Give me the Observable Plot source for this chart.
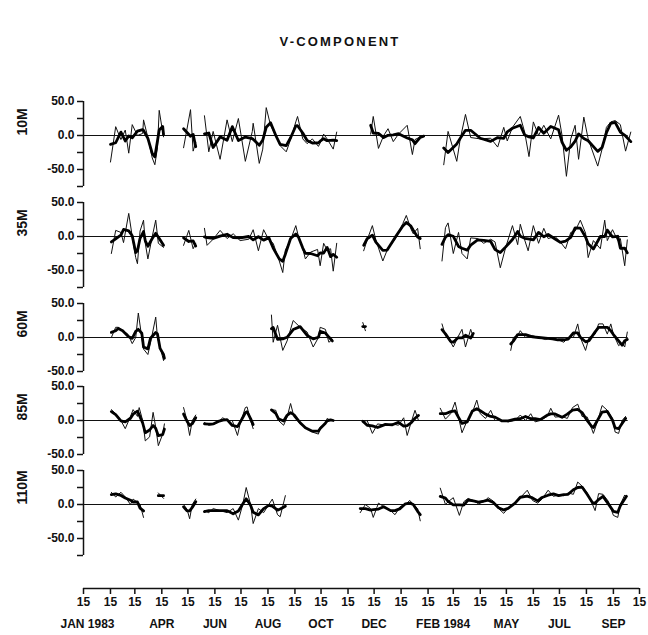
<!DOCTYPE html>
<html><head><meta charset="utf-8">
<script src="https://cdn.jsdelivr.net/npm/d3@7"></script>
<script src="https://cdn.jsdelivr.net/npm/@observablehq/plot@0.6"></script>
<style>
body{margin:0;background:#fff;}
#chart{position:relative;width:648px;height:635px;background:#fff;font-family:"Liberation Sans",Arial,Helvetica,sans-serif;}
#chart svg{position:absolute;left:0;}
#title{position:absolute;top:34px;left:16px;width:648px;text-align:center;font-weight:bold;font-size:13px;letter-spacing:2.2px;color:#111;}
</style></head><body>
<div id="chart"><div id="title">V-COMPONENT</div></div>
<script>
// Day offsets are counted from 15 Jan 1983; each inner array is one unbroken record.
const baseYear = 1983, baseMonth = 0, baseDay = 15;
const xEndDays = 639;          // 15 Oct 1984
const zeroLineEndDays = 626;

const depths = ["10M", "35M", "60M", "85M", "110M"];
const yLows = [-75, -75, -50, -50, -75];
const yHigh = 50;
const yTicks = [-75, -50, -25, 0, 25, 50];

const v10m = [
 [[31,-39],[37,13],[43,-6],[48,8],[52,-26],[56,16],[62,0],[68,3],[69,23],[74,-3],[79,-33],[82,-43],[85,-18],[87,37],[91,5],[92,-2]],
 [[115,-18],[123,38],[126,-23],[129,-10]],
 [[139,29],[144,-24],[149,6],[157,-35],[165,23],[171,-9],[178,25],[186,-38],[194,6],[195,18],[202,-41],[206,-20],[210,41],[215,15],[221,0],[226,-15],[233,-24],[238,-6],[244,20],[246,28],[252,-5],[257,-12],[263,-5],[270,-16],[272,-11],[276,2],[280,-5],[287,-20],[291,5]],
 [[330,2],[333,28],[339,-19],[345,0],[350,10],[356,-9],[362,2],[372,15],[378,-28],[381,-6],[387,-2],[391,0]],
 [[414,-43],[419,6],[429,-38],[433,-5],[439,31],[445,-3],[456,-5],[468,-4],[476,-17],[483,12],[487,-8],[493,12],[502,28],[507,5],[512,-31],[517,20],[523,0],[529,15],[537,-5],[546,30],[550,0],[555,-60],[560,-5],[565,15],[569,-35],[575,27],[580,-5],[591,-45],[596,-20],[601,12],[606,20],[611,22],[617,16],[623,-23],[629,5]]
];
const v35m = [
 [[32,-25],[37,9],[43,6],[46,-9],[52,34],[56,0],[60,-31],[62,-40],[65,8],[69,24],[71,-10],[74,-33],[79,0],[83,24],[86,-10],[92,-16]],
 [[115,-13],[121,9],[126,-18],[129,-10]],
 [[139,12],[142,-13],[149,-4],[157,9],[165,-3],[172,4],[180,-6],[190,-4],[195,10],[201,-21],[207,10],[213,-5],[218,-10],[225,-36],[229,-53],[232,-20],[238,-5],[244,16],[247,0],[252,-18],[255,-33],[261,-23],[269,-19],[272,-43],[276,-10],[280,-20],[284,-18],[287,-51],[291,-10]],
 [[322,-21],[326,-5],[332,16],[336,-5],[344,-36],[349,-20],[358,-4],[367,19],[371,31],[376,12],[379,4],[384,12],[387,-18]],
 [[412,-36],[416,13],[419,20],[425,-25],[431,6],[435,-25],[441,-33],[445,-2],[453,-3],[460,-10],[468,-4],[473,-8],[479,-46],[485,-17],[493,16],[499,-12],[502,18],[507,-5],[511,-21],[517,16],[523,-10],[529,12],[534,-3],[542,0],[548,-8],[554,-18],[560,6],[565,8],[571,24],[577,5],[580,-31],[586,-6],[594,-18],[599,24],[602,-6],[608,10],[614,-6],[617,-3],[622,-43],[625,-5]]
];
const v60m = [
 [[32,0],[37,15],[40,15],[45,10],[51,5],[56,-9],[60,0],[63,36],[67,0],[69,-17],[74,-25],[77,-8],[83,30],[85,0],[88,-14],[92,-34],[93,-27]],
 [[216,33],[218,-7],[223,18],[229,-19],[234,-5],[241,25],[249,15],[257,8],[264,-14],[270,0],[272,15],[278,12],[282,-7],[286,-3]],
 [[321,22],[324,10]],
 [[412,20],[416,3],[422,-7],[425,-14],[430,0],[435,12],[439,-14],[445,12],[448,0]],
 [[491,-19],[494,0],[499,3],[502,10],[508,0],[516,3],[523,0],[531,-3],[539,0],[545,-3],[552,-7],[557,0],[563,0],[568,20],[571,0],[577,-19],[581,0],[588,5],[592,20],[597,20],[602,5],[606,20],[609,5],[615,-12],[619,-8],[622,-14],[625,8]]
];
const v85m = [
 [[32,16],[37,10],[43,0],[48,-12],[54,6],[57,16],[62,6],[64,19],[68,0],[71,-30],[76,-24],[80,12],[83,-10],[86,-37],[91,-20],[93,-5]],
 [[115,19],[119,0],[122,-22],[125,0],[129,8]],
 [[139,-3],[144,-7],[149,-6],[155,-2],[160,4],[165,0],[171,0],[177,-22],[180,-5],[186,19],[188,20],[192,0],[195,-12]],
 [[216,16],[221,15],[224,0],[230,-7],[234,5],[238,25],[242,5],[249,-5],[255,-10],[263,-17],[270,-20],[272,-10],[278,-5],[280,3],[284,0],[287,0]],
 [[321,-2],[326,0],[332,-19],[338,-5],[347,-7],[355,-5],[362,-7],[368,4],[372,-22],[376,-5],[381,15],[385,0]],
 [[410,18],[416,2],[422,10],[427,27],[431,5],[435,-18],[441,0],[447,12],[452,30],[456,10],[462,3],[468,15],[473,0],[481,0],[488,-2],[496,0],[502,8],[508,0],[514,10],[519,-2],[525,0],[533,6],[537,18],[542,5],[550,6],[556,3],[562,19],[568,24],[573,6],[579,5],[584,-12],[586,-19],[591,0],[596,22],[602,15],[608,3],[611,-17],[615,-19],[619,0],[623,6]]
];
const v110m = [
 [[32,18],[37,11],[43,18],[48,11],[54,0],[57,8],[62,3],[65,0],[69,-19]],
 [[86,17],[92,9]],
 [[115,0],[119,-7],[122,-21],[125,0],[129,8]],
 [[139,-9],[144,-12],[149,-6],[157,-9],[165,-12],[172,-6],[178,-23],[183,0],[187,25],[192,0],[195,-28],[201,-6],[207,-12],[213,0],[217,8],[223,-15],[226,-18],[232,13]],
 [[318,-12],[324,0],[330,-6],[333,-19],[339,2],[345,-3],[353,-9],[358,-15],[364,-3],[370,0],[375,6],[379,0],[384,-6],[387,-24]],
 [[410,24],[416,0],[419,4],[425,10],[432,-16],[437,4],[442,9],[448,6],[454,1],[460,4],[465,10],[471,5],[477,-6],[483,-13],[488,-5],[496,1],[502,10],[510,21],[516,6],[522,2],[527,8],[534,21],[540,12],[546,14],[552,13],[557,17],[563,15],[568,33],[573,27],[579,17],[585,0],[588,-9],[592,16],[597,15],[603,5],[609,-16],[614,-19],[617,0],[622,14],[624,10]]
];
const series = [v10m, v35m, v60m, v85m, v110m];

const monthNames = ["APR","JUN","AUG","OCT","DEC","MAY","JUL","SEP"];
const monthDates = ["1983-04-15","1983-06-15","1983-08-15","1983-10-15","1983-12-15","1984-05-15","1984-07-15","1984-09-15"];
const yearLabel1 = {date:"1983-01-15", text:"JAN 1983"};
const yearLabel2 = {date:"1984-02-15", text:"FEB 1984"};
const xTickText = "15";

const toDate = d => new Date(Date.UTC(baseYear, baseMonth, baseDay + d));
const xDomain = [toDate(0), toDate(xEndDays)];
const font = "'Liberation Sans', Arial, Helvetica, sans-serif";
const chart = document.getElementById("chart");

const tops = [101, 202, 303, 386, 470];
const pxPerUnit = 0.68;
const mT = 8, mB = 8, mL = 83, mR = 9;

series.forEach((segs, i) => {
  const lo = yLows[i];
  const rows = [];
  segs.forEach((seg, s) => seg.forEach(([d, v]) => rows.push({date: toDate(d), v, seg: s})));
  const inner = Math.round((yHigh - lo) * pxPerUnit);
  const plot = Plot.plot({
    width: 648, height: inner + mT + mB,
    marginTop: mT, marginBottom: mB, marginLeft: mL, marginRight: mR,
    style: {fontFamily: font, fontSize: "12px", fontWeight: "bold", background: "transparent", overflow: "visible", color: "#111"},
    x: {type: "utc", domain: xDomain, axis: null},
    y: {domain: [lo, yHigh]},
    marks: [
      Plot.ruleY([0], {x1: toDate(0), x2: toDate(zeroLineEndDays), stroke: "#111", strokeWidth: 1.2}),
      Plot.ruleX([toDate(0)], {y1: lo, y2: yHigh, stroke: "#111", strokeWidth: 1.5}),
      Plot.axisY({ticks: yTicks.filter(t => t >= lo && t <= yHigh), tickSize: 6, tickPadding: 3, label: null,
        tickFormat: t => t % 50 === 0 ? t.toFixed(1) : "", stroke: "#111", strokeWidth: 1.5}),
      Plot.line(rows, {x: "date", y: "v", z: "seg", stroke: "#111", strokeWidth: 1}),
      Plot.line(rows, Plot.windowY({k: 3, reduce: "mean"}, {x: "date", y: "v", z: "seg", stroke: "#000", strokeWidth: 2.8, strokeLinejoin: "round"})),
      Plot.text([depths[i]], {frameAnchor: "left", y: [0], dx: -61, rotate: -90, fontSize: 14, fontWeight: "bold", fill: "#111"})
    ]
  });
  plot.style.top = (tops[i] - mT) + "px";
  chart.appendChild(plot);
});

// bottom time axis
const tickDates = d3.range(22).map(i => new Date(Date.UTC(baseYear, i, baseDay)));
const parse = s => new Date(s + "T00:00:00Z");
const xAxis = Plot.plot({
  width: 648, height: 55, marginTop: 0, marginBottom: 47, marginLeft: mL, marginRight: mR,
  style: {fontFamily: font, fontSize: "12px", fontWeight: "bold", background: "transparent", overflow: "visible", color: "#111"},
  x: {type: "utc", domain: xDomain},
  y: {domain: [0, 1], axis: null},
  marks: [
    Plot.ruleY([0], {stroke: "#111", strokeWidth: 1.5}),
    Plot.axisX({ticks: tickDates, tickSize: 6, tickPadding: 3, label: null, tickFormat: () => xTickText, stroke: "#111", strokeWidth: 1.5}),
    Plot.text(monthNames, {x: (d, j) => parse(monthDates[j]), y: 0, dy: 36, text: d => d, fill: "#111", fontSize: 12}),
    Plot.text([yearLabel1], {x: d => parse(d.date), y: 0, dy: 36, dx: -23, text: "text", textAnchor: "start", fill: "#111", fontSize: 12}),
    Plot.text([yearLabel2], {x: d => parse(d.date), y: 0, dy: 36, dx: -12, text: "text", textAnchor: "start", fill: "#111", fontSize: 12})
  ]
});
xAxis.style.top = "580px";
chart.appendChild(xAxis);
</script>
</body></html>
